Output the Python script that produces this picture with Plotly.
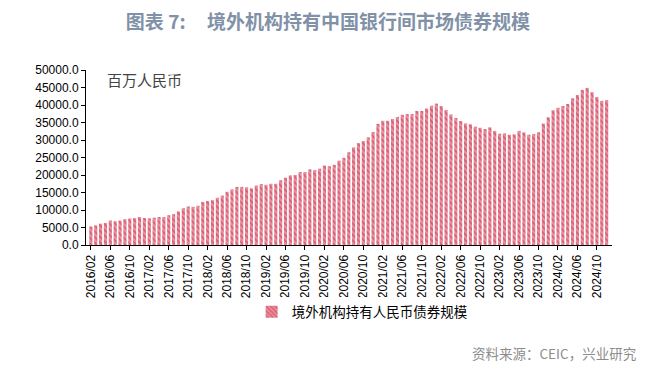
import plotly.graph_objects as go

# Monthly data, 2016/02 .. 2024/12 (units: 百万人民币; listed in thousands)
start_year, start_month = 2016, 2
values_k = [
    5.3, 5.6, 6.1, 6.3, 7.0, 6.8, 7.0, 7.4, 7.6, 7.7, 8.0, 7.7, 7.6, 7.8, 8.0, 8.0,
    8.5, 8.8, 9.6, 10.5, 11.0, 10.9, 11.2, 12.3, 12.6, 12.8, 13.5, 14.1, 15.2, 15.9,
    16.6, 16.6, 16.5, 16.2, 17.0, 17.4, 17.2, 17.5, 17.5, 18.5, 19.2, 19.9, 20.0,
    20.85, 20.85, 21.6, 21.4, 21.8, 22.7, 22.5, 22.9, 24.1, 24.9, 26.5, 27.9, 29.1,
    29.7, 30.75, 32.3, 34.6, 35.5, 35.5, 36.0, 36.6, 37.2, 37.4, 37.4, 38.3, 38.3,
    39.0, 39.8, 40.4, 39.7, 38.6, 37.3, 36.3, 35.4, 34.75, 34.5, 33.8, 33.5, 33.1,
    33.6, 32.6, 31.8, 31.9, 31.5, 31.6, 32.6, 32.2, 31.5, 31.7, 32.2, 34.7, 36.5,
    38.5, 39.2, 39.7, 40.3, 41.9, 42.85, 44.3, 44.9, 43.7, 42.3, 41.2, 41.4,
]
values = [v * 1000 for v in values_k]

months = []
y, m = start_year, start_month
for _ in values:
    months.append(f"{y}/{m:02d}")
    m += 1
    if m > 12:
        m = 1
        y += 1

tick_labels = months[::4]
y_ticks = list(range(0, 50001, 5000))

series_name = "境外机构持有人民币债券规模"
title_text = "图表 7:     境外机构持有中国银行间市场债券规模"
unit_text = "百万人民币"
source_text = "资料来源：CEIC，兴业研究"

# page body has an 8px margin -> figure is sized to fit the window
W, H = 651, 360
fig = go.Figure()
fig.add_trace(go.Bar(
    x=months, y=values, name=series_name,
    marker=dict(
        color="#e8909f",
        line=dict(width=0),
        pattern=dict(shape="\\", fgcolor="#c92240", size=4, solidity=0.4),
    ),
    showlegend=True,
))

fig.update_layout(
    width=W, height=H,
    margin=dict(l=78, r=47, t=62, b=123, autoexpand=False),
    paper_bgcolor="white", plot_bgcolor="white",
    bargap=0.35,
    font=dict(family="Liberation Sans, Arial, sans-serif", size=12, color="#000"),
    title=dict(
        text=title_text, x=(328 - 8) / W, xanchor="center", y=1 - 14 / H, yanchor="middle",
        font=dict(family="Noto Sans CJK SC", size=19, color="#8191a7", weight="bold"),
    ),
    showlegend=True,
    legend=dict(
        orientation="h", x=0.525, xanchor="center", y=-0.383, yanchor="middle",
        font=dict(family="Noto Sans CJK SC", size=13.5, color="#000"),
        itemwidth=30,
    ),
)

fig.update_xaxes(
    type="category", range=[-1.0, len(values) + 0.1], automargin=False,
    tickmode="array", tickvals=tick_labels, ticktext=tick_labels,
    tickangle=-90, ticks="outside", ticklen=4, tickcolor="#000",
    showline=True, linecolor="#000", linewidth=1, showgrid=False,
    tickfont=dict(family="Liberation Sans, Arial, sans-serif", size=12, color="#000"),
)
fig.update_yaxes(
    range=[0, 50000], tickmode="array", tickvals=y_ticks, automargin=False,
    ticktext=[f"{v:.1f}" for v in y_ticks],
    ticks="outside", ticklen=4, tickcolor="#000",
    showline=True, linecolor="#000", linewidth=1, showgrid=False, zeroline=False,
    tickfont=dict(family="Liberation Sans, Arial, sans-serif", size=12, color="#000"),
)

fig.add_annotation(
    text=unit_text, xref="paper", yref="paper", x=0.036, y=0.943,
    xanchor="left", yanchor="middle", showarrow=False,
    font=dict(family="Noto Sans CJK SC", size=15, color="#444"),
)
fig.add_annotation(
    text=source_text, xref="paper", yref="paper", x=(638 - 86) / 526, y=(245 - 353) / 175,
    xanchor="right", yanchor="middle", showarrow=False,
    font=dict(family="Noto Sans CJK SC", size=13.5, color="#8c8c8c"),
)

fig.write_html("out.html")
